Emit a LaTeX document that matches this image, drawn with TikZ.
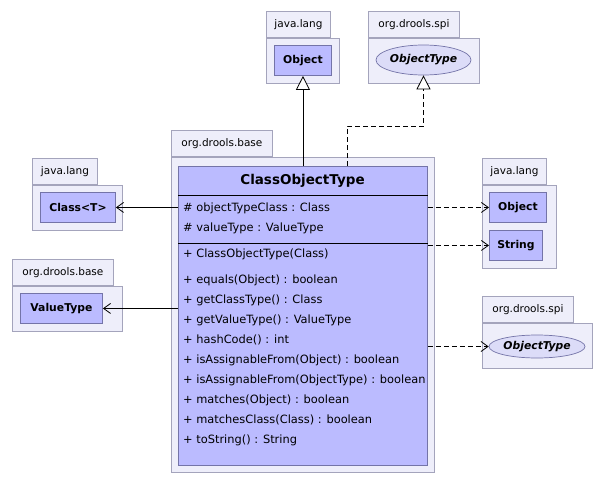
\documentclass[tikz,border=0pt]{standalone}
\usepackage{fontspec}
\setmainfont{DejaVu Sans}
\usetikzlibrary{arrows.meta,shapes.geometric}
\definecolor{pkgfill}{HTML}{EEEEFA}
\definecolor{pkgline}{HTML}{A4A4BC}
\definecolor{clsfill}{HTML}{BBBBFF}
\definecolor{clsline}{HTML}{7474A8}
\definecolor{ifill}{HTML}{DCDCF8}
\begin{document}
\begin{tikzpicture}[x=1pt,y=-1pt,
  pkgbody/.style={draw=pkgline,fill=pkgfill,line width=0.9pt,inner sep=0pt,anchor=north west},
  pkgtab/.style={draw=pkgline,fill=pkgfill,line width=0.9pt,inner sep=0pt,anchor=south west,minimum height=26,font=\fontsize{10.5}{12}\selectfont},
  clsbox/.style={draw=clsline,fill=clsfill,line width=0.9pt,inner sep=0pt,anchor=north west,font=\fontsize{10.8}{12}\selectfont\bfseries},
  ifbox/.style={ellipse,draw=clsline,fill=ifill,line width=0.7pt,inner sep=0pt,font=\fontsize{10.8}{12}\selectfont\bfseries\itshape},
  member/.style={anchor=west,inner sep=0pt,font=\fontsize{11.4}{13}\selectfont},
  assoc/.style={-{Straight Barb[length=7pt,width=10pt]},line width=0.8pt},
  dep/.style={-{Straight Barb[length=7pt,width=10pt]},line width=0.8pt,dash pattern=on 5pt off 3pt},
  gen/.style={-{Triangle[open,length=14pt,width=14pt,fill=white]},line width=0.8pt},
  real/.style={-{Triangle[open,length=14pt,width=14pt,fill=white]},line width=0.8pt,dash pattern=on 5pt off 3pt}
]
\useasboundingbox (0,0) rectangle (606,485);
\fill[white] (0,0) rectangle (606,485);

% top java.lang
\node[pkgbody,minimum width=73,minimum height=45] (pa) at (266,38) {};
\node[pkgtab,minimum width=64] (pat) at (266,38) {java.lang};
\node[clsbox,minimum width=57,minimum height=30] (obja) at (274,45) {Object};

% top org.drools.spi
\node[pkgbody,minimum width=111,minimum height=45] (pb) at (368,38) {};
\node[pkgtab,minimum width=91] (pbt) at (368,38) {org.drools.spi};
\node[ifbox,minimum width=95,minimum height=30] (ota) at (423.5,60) {ObjectType};

% central package
\node[pkgbody,minimum width=263,minimum height=315] (pc) at (171,157) {};
\node[pkgtab,minimum width=101] (pct) at (171,157) {org.drools.base};
\node[clsbox,minimum width=249,minimum height=299] (cot) at (178,166) {};
\node[inner sep=0pt,font=\fontsize{13.5}{15}\selectfont\bfseries] (cotn) at (302.5,181) {ClassObjectType};
\draw[line width=0.8pt] (cot.west |- 0,195) -- (cot.east |- 0,195);
\draw[line width=0.8pt] (cot.west |- 0,243) -- (cot.east |- 0,243);
\node[member] (m1) at (183,208) {\# objectTypeClass : Class};
\node[member] (m2) at (183,228) {\# valueType : ValueType};
\node[member] (o1) at (183,254) {+ ClassObjectType(Class)};
\node[member] (o2) at (183,280) {+ equals(Object) : boolean};
\node[member] (o3) at (183,300) {+ getClassType() : Class};
\node[member] (o4) at (183,320) {+ getValueType() : ValueType};
\node[member] (o5) at (183,340) {+ hashCode() : int};
\node[member] (o6) at (183,360) {+ isAssignableFrom(Object) : boolean};
\node[member] (o7) at (183,380) {+ isAssignableFrom(ObjectType) : boolean};
\node[member] (o8) at (183,400) {+ matches(Object) : boolean};
\node[member] (o9) at (183,420) {+ matchesClass(Class) : boolean};
\node[member] (o10) at (183,440) {+ toString() : String};

% left java.lang
\node[pkgbody,minimum width=90,minimum height=45] (pd) at (32,185) {};
\node[pkgtab,minimum width=65] (pdt) at (32,185) {java.lang};
\node[clsbox,minimum width=75,minimum height=30] (clst) at (40,192) {Class<T>};

% left org.drools.base
\node[pkgbody,minimum width=110,minimum height=45] (pe) at (12,286) {};
\node[pkgtab,minimum width=101] (pet) at (12,286) {org.drools.base};
\node[clsbox,minimum width=82,minimum height=30] (vt) at (20,293) {ValueType};

% right java.lang
\node[pkgbody,minimum width=74,minimum height=83] (pf) at (482,185) {};
\node[pkgtab,minimum width=64] (pft) at (482,185) {java.lang};
\node[clsbox,minimum width=57,minimum height=30] (objb) at (489,192) {Object};
\node[clsbox,minimum width=53,minimum height=30] (str) at (489,230) {String};

% right org.drools.spi
\node[pkgbody,minimum width=110,minimum height=45] (pg) at (482,323) {};
\node[pkgtab,minimum width=91] (pgt) at (482,323) {org.drools.spi};
\node[ifbox,minimum width=96,minimum height=23] (otb) at (537,346.5) {ObjectType};

% connectors
\draw[gen] (obja.south |- cot.north) -- (obja.south);
\coordinate (r1) at (347,166);
\draw[real] (r1) -- (347,126) -| (ota.south);
\draw[assoc] (cot.west |- clst.east) -- (clst.east);
\draw[assoc] (cot.west |- vt.east) -- (vt.east);
\draw[dep] (cot.east |- objb.west) -- (objb.west);
\draw[dep] (cot.east |- str.west) -- (str.west);
\draw[dep] (cot.east |- otb.west) -- (otb.west);
\end{tikzpicture}
\end{document}
